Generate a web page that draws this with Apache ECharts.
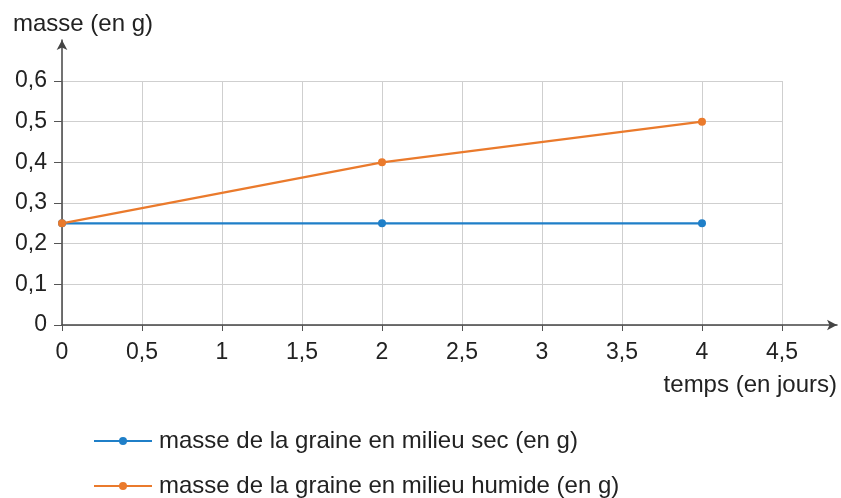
<!DOCTYPE html>
<html><head><meta charset="utf-8">
<script src="https://cdn.jsdelivr.net/npm/echarts@6/dist/echarts.min.js"></script>
<style>html,body{margin:0;padding:0;background:#fff}#c{width:841px;height:498px}</style>
</head><body><div id="c"></div>
<script>
const days = [0, 2, 4];
const masseSec = [0.25, 0.25, 0.25];
const masseHumide = [0.25, 0.4, 0.5];
const seriesNames = ['masse de la graine en milieu sec (en g)', 'masse de la graine en milieu humide (en g)'];
const yAxisName = 'masse (en g)';
const xAxisName = 'temps (en jours)';

const FONT = '"Liberation Sans", Arial, sans-serif';
const fmt = v => String(Math.round(v * 100) / 100).replace('.', ',');
const legendBase = {
  orient: 'horizontal', left: 88, itemWidth: 58, itemHeight: 10, itemGap: 10,
  textStyle: { fontSize: 24, color: '#222', fontFamily: FONT, padding: [0, 0, 0, 2] }
};
const chart = echarts.init(document.getElementById('c'));
chart.setOption({
  animation: false,
  textStyle: { fontFamily: FONT },
  grid: [
    { left: 62, top: 81, width: 720, height: 244 },
    { left: 62, top: 40, right: 4, bottom: 173 }
  ],
  legend: [
    Object.assign({}, legendBase, { top: 424, data: [seriesNames[0]] }),
    Object.assign({}, legendBase, { top: 469, data: [seriesNames[1]] })
  ],
  xAxis: [
    { type: 'value', gridIndex: 0, min: 0, max: 4.5, interval: 0.5,
      axisLine: { show: false },
      axisTick: { show: true, length: 6, lineStyle: { color: '#555' } },
      axisLabel: { formatter: fmt, fontSize: 23, color: '#222', margin: 16, fontFamily: FONT },
      splitLine: { show: true, lineStyle: { color: '#cfcfcf', width: 1 } } },
    { type: 'value', gridIndex: 1, min: 0, max: 1,
      axisLine: { show: true, symbol: ['none', 'arrow'], symbolSize: [8, 10], lineStyle: { color: '#444', width: 1.5 } },
      axisTick: { show: false }, axisLabel: { show: false }, splitLine: { show: false },
      name: xAxisName, nameLocation: 'end', nameGap: 0,
      nameTextStyle: { fontSize: 24, color: '#222', fontFamily: FONT, align: 'right', verticalAlign: 'top', padding: [48, 0, 0, 0] } }
  ],
  yAxis: [
    { type: 'value', gridIndex: 0, min: 0, max: 0.6, interval: 0.1,
      axisLine: { show: false },
      axisTick: { show: true, length: 8, lineStyle: { color: '#555' } },
      axisLabel: { formatter: fmt, fontSize: 23, color: '#222', margin: 15, fontFamily: FONT },
      splitLine: { show: true, lineStyle: { color: '#cfcfcf', width: 1 } } },
    { type: 'value', gridIndex: 1, min: 0, max: 1,
      axisLine: { show: true, symbol: ['none', 'arrow'], symbolSize: [8, 10], lineStyle: { color: '#444', width: 1.5 } },
      axisTick: { show: false }, axisLabel: { show: false }, splitLine: { show: false },
      name: yAxisName, nameLocation: 'end', nameGap: 4,
      nameTextStyle: { fontSize: 24, color: '#222', fontFamily: FONT, align: 'left', padding: [0, 0, 0, -49] } }
  ],
  series: [
    { name: seriesNames[0], type: 'line', xAxisIndex: 0, yAxisIndex: 0,
      data: days.map((d, i) => [d, masseSec[i]]),
      symbol: 'circle', symbolSize: 8, itemStyle: { color: '#1f7fc8' }, lineStyle: { color: '#1f7fc8', width: 2.2 } },
    { name: seriesNames[1], type: 'line', xAxisIndex: 0, yAxisIndex: 0,
      data: days.map((d, i) => [d, masseHumide[i]]),
      symbol: 'circle', symbolSize: 8, itemStyle: { color: '#ea7a2c' }, lineStyle: { color: '#ea7a2c', width: 2.2 } }
  ]
});
</script></body></html>
